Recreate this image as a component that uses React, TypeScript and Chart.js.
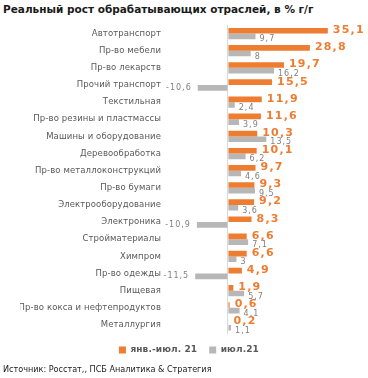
import React, { useEffect, useRef } from "react";
import { Chart, registerables } from "chart.js";

Chart.register(...registerables);

const categories = [
  "Автотранспорт",
  "Пр-во мебели",
  "Пр-во лекарств",
  "Прочий транспорт",
  "Текстильная",
  "Пр-во резины и пластмассы",
  "Машины и оборудование",
  "Деревообработка",
  "Пр-во металлоконструкций",
  "Пр-во бумаги",
  "Электрооборудование",
  "Электроника",
  "Стройматериалы",
  "Химпром",
  "Пр-во одежды",
  "Пищевая",
  "Пр-во кокса и нефтепродуктов",
  "Металлургия",
];
const janJul21 = [35.1, 28.8, 19.7, 15.5, 11.9, 11.6, 10.3, 10.1, 9.7, 9.3, 9.2, 8.3, 6.6, 6.6, 4.9, 1.9, 0.6, 0.2];
const jul21 = [9.7, 8, 16.2, -10.6, 2.4, 3.9, 13.5, 6.2, 4.6, 9.5, 3.6, -10.9, 7.1, 3, -11.5, 5.7, 4.1, 1.1];
const seriesNames = ["янв.-июл. 21", "июл.21"];
const titleText = "Реальный рост обрабатывающих отраслей, в % г/г";
const sourceText = "Источник: Росстат,, ПСБ Аналитика & Стратегия";

const ORANGE = "#ED7D31";
const GREY = "#B7B7B7";

const fmt = (v: number) => String(v).replace(".", ",");

const spacingPlugin = {
  id: "spacing",
  beforeDraw(chart: any) {
    chart.ctx.letterSpacing = "0.1px";
  },
  beforeDatasetsDraw(chart: any) {
    chart.ctx.letterSpacing = "0px";
  },
  afterDatasetsDraw(chart: any) {
    chart.ctx.letterSpacing = "0.4px";
  },
  afterDraw(chart: any) {
    chart.ctx.letterSpacing = "0px";
  },
};

const valueLabels = {
  id: "valueLabels",
  afterDatasetsDraw(chart: any) {
    const ctx = chart.ctx;
    chart.data.datasets.forEach((ds: any, di: number) => {
      const meta = chart.getDatasetMeta(di);
      meta.data.forEach((bar: any, i: number) => {
        const v = ds.data[i] as number;
        ctx.save();
        ctx.textBaseline = "middle";
        if (di === 0) {
          ctx.font = "bold 11px 'DejaVu Sans'";
          ctx.letterSpacing = "1.2px";
          ctx.fillStyle = ORANGE;
          ctx.textAlign = "left";
          ctx.fillText(fmt(v), bar.x + 5, bar.y - 0.5);
        } else {
          ctx.font = "8px 'DejaVu Sans'";
          ctx.letterSpacing = "1px";
          ctx.fillStyle = "#808080";
          if (v >= 0) {
            ctx.textAlign = "left";
            ctx.fillText(fmt(v), bar.x + 4, bar.y + 3);
          } else {
            ctx.textAlign = "right";
            ctx.fillText(fmt(v), bar.x - 6, bar.y);
          }
        }
        ctx.restore();
      });
    });
  },
};

export default function App() {
  const ref = useRef<HTMLCanvasElement>(null);
  useEffect(() => {
    if (!ref.current) return;
    const chart = new Chart(ref.current, {
      type: "bar",
      data: {
        labels: categories,
        datasets: [
          { label: seriesNames[0], data: janJul21, backgroundColor: ORANGE, categoryPercentage: 0.66, barPercentage: 1 },
          { label: seriesNames[1], data: jul21, backgroundColor: GREY, categoryPercentage: 0.66, barPercentage: 1 },
        ],
      },
      options: {
        indexAxis: "y",
        animation: false,
        responsive: false,
        maintainAspectRatio: false,
        layout: { padding: { top: 25, right: 12, bottom: 13.5, left: 20 } },
        scales: {
          x: {
            min: -20,
            max: 45,
            ticks: { display: false },
            border: { display: false },
            grid: {
              drawTicks: false,
              color: (c: any) => (c.tick && c.tick.value === 0 ? "#D9D9D9" : "rgba(0,0,0,0)"),
            },
          },
          y: {
            border: { display: false },
            grid: { display: false, drawTicks: false },
            ticks: {
              color: "#595959",
              font: { family: "'DejaVu Sans'", size: 8.5 },
              padding: 10,
              autoSkip: false,
            },
            afterFit: (s: any) => {
              s.width = 151;
            },
          },
        },
        plugins: {
          legend: {
            position: "bottom",
            labels: {
              boxWidth: 7,
              boxHeight: 7,
              color: "#595959",
              font: { family: "'DejaVu Sans'", size: 9, weight: "bold" },
              padding: 12,
            },
          },
          tooltip: { enabled: false },
        },
      },
      plugins: [spacingPlugin, valueLabels],
    });
    return () => chart.destroy();
  }, []);

  return (
    <div style={{ position: "fixed", left: 0, top: 0, width: 368, height: 378, background: "#fff" }}>
      <div
        style={{
          position: "absolute",
          left: 3,
          top: 3,
          font: "bold 10.5px 'DejaVu Sans'",
          color: "#1a1a1a",
          whiteSpace: "nowrap",
        }}
      >
        {titleText}
      </div>
      <canvas ref={ref} width={368} height={378} style={{ position: "absolute", left: 0, top: 0 }} />
      <div
        style={{
          position: "absolute",
          left: 3,
          top: 364,
          font: "9px 'DejaVu Sans Condensed', 'DejaVu Sans'",
          color: "#1a1a1a",
          whiteSpace: "nowrap",
        }}
      >
        {sourceText}
      </div>
    </div>
  );
}
